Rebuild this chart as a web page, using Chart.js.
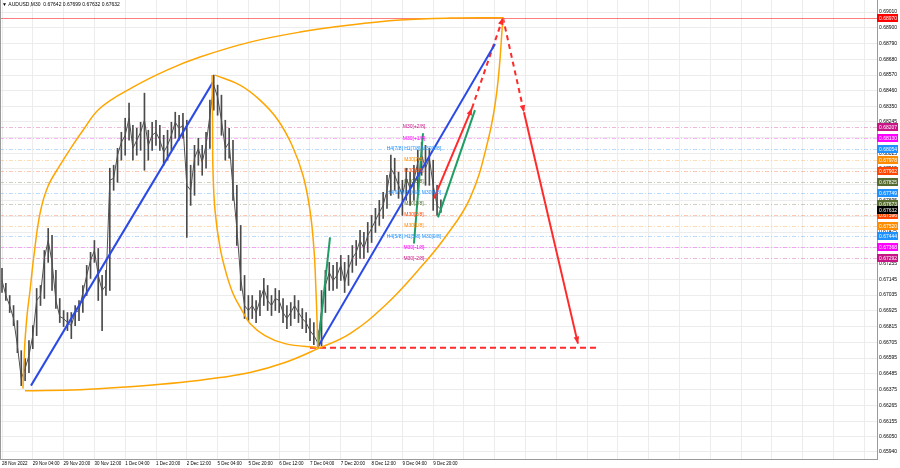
<!DOCTYPE html>
<html><head><meta charset="utf-8">
<script src="https://cdn.jsdelivr.net/npm/chart.js@4.4.1/dist/chart.umd.min.js"></script>
<style>html,body{margin:0;padding:0;background:#fff;}canvas{display:block;}</style>
</head><body>
<canvas id="c" width="900" height="468"></canvas>
<script>
// ---------- data ----------
const titleText = '\u25BC AUDUSD,M30  0.67642 0.67699 0.67632 0.67632';
const timeLabels = ['28 Nov 2022','29 Nov 04:00','29 Nov 20:00','30 Nov 12:00','1 Dec 04:00','1 Dec 20:00','2 Dec 12:00','5 Dec 04:00','5 Dec 20:00','6 Dec 12:00','7 Dec 04:00','7 Dec 20:00','8 Dec 12:00','9 Dec 04:00','9 Dec 20:00'];
const barsPerLabel = 32;   // M30 bars between time labels
const binBars = 4;         // each price sample covers 4 M30 bars
const priceTicks = [0.69010,0.68900,0.68790,0.68680,0.68570,0.68460,0.68350,0.68245,0.68135,0.68025,0.67915,0.67805,0.67695,0.67585,0.67475,0.67365,0.67255,0.67145,0.67035,0.66925,0.66815,0.66705,0.66595,0.66485,0.66375,0.66265,0.66155,0.66050,0.65940];

const closes = [0.67137,0.67032,0.66962,0.66871,0.66682,0.66452,0.66522,0.66613,0.66752,0.66997,
0.67032,0.67291,0.67416,0.67263,0.66997,0.66885,0.66871,0.66843,0.66822,0.66913,
0.66927,0.67053,0.67172,0.67277,0.67346,0.67172,0.67067,0.67102,0.67836,0.67850,
0.68011,0.68101,0.68150,0.68269,0.68059,0.68115,0.68171,0.68255,0.68080,0.68150,
0.68171,0.68115,0.68032,0.68080,0.68150,0.68241,0.68199,0.68220,0.67801,0.67766,
0.67990,0.68059,0.67962,0.68080,0.68290,0.68500,0.68416,0.68255,0.68059,0.68101,
0.67780,0.67500,0.67151,0.66962,0.66927,0.66962,0.66913,0.66997,0.67081,0.66997,
0.66962,0.67011,0.66997,0.66913,0.66871,0.66913,0.66962,0.66913,0.66871,0.66843,
0.66787,0.66752,0.66703,0.66927,0.67102,0.67193,0.67137,0.67172,0.67242,0.67123,
0.67221,0.67291,0.67333,0.67416,0.67360,0.67451,0.67500,0.67556,0.67612,0.67661,
0.67766,0.67920,0.67871,0.67801,0.67731,0.67850,0.67780,0.67836,0.67962,0.68011,
0.67920,0.67990,0.67801,0.67661,0.67632];
const highs = [0.67221,0.67116,0.67032,0.66962,0.66857,0.66647,0.66592,0.66717,0.66822,0.67081,
0.67102,0.67346,0.67500,0.67451,0.67207,0.67011,0.66927,0.66913,0.66913,0.66962,
0.66997,0.67102,0.67242,0.67333,0.67416,0.67360,0.67172,0.67207,0.67920,0.67941,
0.68059,0.68171,0.68269,0.68374,0.68220,0.68199,0.68241,0.68444,0.68185,0.68241,
0.68255,0.68220,0.68150,0.68185,0.68241,0.68311,0.68290,0.68304,0.68255,0.67941,
0.68080,0.68129,0.68080,0.68171,0.68395,0.68570,0.68500,0.68430,0.68255,0.68199,
0.68115,0.67801,0.67521,0.67172,0.67032,0.67032,0.66997,0.67067,0.67151,0.67102,
0.67032,0.67081,0.67067,0.67011,0.66962,0.66983,0.67032,0.66997,0.66941,0.66913,
0.66871,0.66843,0.66787,0.67067,0.67207,0.67263,0.67242,0.67263,0.67312,0.67263,
0.67312,0.67381,0.67416,0.67486,0.67472,0.67542,0.67591,0.67640,0.67696,0.67752,
0.67871,0.68011,0.67990,0.67892,0.67836,0.67920,0.67892,0.67941,0.68045,0.68101,
0.68080,0.68059,0.67976,0.67801,0.67699];
const lows = [0.67053,0.66997,0.66913,0.66822,0.66633,0.66403,0.66438,0.66494,0.66661,0.66752,
0.66962,0.67011,0.67263,0.67067,0.66941,0.66843,0.66815,0.66787,0.66731,0.66822,
0.66857,0.66913,0.67032,0.67151,0.67263,0.66997,0.66787,0.67032,0.67067,0.67766,
0.67822,0.67976,0.68011,0.68115,0.67976,0.68011,0.68045,0.67906,0.67976,0.68045,
0.68080,0.68045,0.67941,0.67976,0.68045,0.68129,0.68115,0.68129,0.67437,0.67661,
0.67731,0.67941,0.67871,0.67920,0.68059,0.68325,0.68290,0.68150,0.67976,0.67990,
0.67696,0.67381,0.67067,0.66871,0.66857,0.66871,0.66843,0.66892,0.66962,0.66927,
0.66892,0.66927,0.66913,0.66843,0.66801,0.66822,0.66871,0.66843,0.66801,0.66773,
0.66717,0.66689,0.66668,0.66682,0.66913,0.67067,0.67067,0.67081,0.67137,0.67053,
0.67102,0.67193,0.67242,0.67291,0.67291,0.67333,0.67402,0.67472,0.67521,0.67570,
0.67640,0.67731,0.67766,0.67710,0.67591,0.67696,0.67661,0.67696,0.67766,0.67871,
0.67801,0.67801,0.67626,0.67591,0.67612];

const mmLevels = [0.68207,0.68130,0.68054,0.67978,0.67902,0.67825,0.67749,0.67673,0.67596,0.67520,0.67444,0.67368,0.67292];
const mmNames = ['M30[+2/8]','M30[+1/8]','H4[7/8] H1[7/8] M30[8/8]','M30[7/8]','M30[6/8]','M30[5/8]','H4[6/8] H1[6/8] M30[4/8]','M30[3/8]','M30[2/8]','M30[1/8]','H4[5/8] H1[5/8] M30[0/8]','M30[-1/8]','M30[-2/8]'];
const mmColors = ['#c71585','#ff00ff','#1e90ff','#ff8c00','#ff4500','#556b2f','#1e90ff','#556b2f','#ff4500','#ff8c00','#1e90ff','#ff00ff','#c71585'];
const resistLevel = 0.68970;
const lastPrice = 0.67632;

// drawn objects, as [bar, price] pairs
const blueLine1 = [[30.1,0.66403],[219.2,0.68521]];
const blueLine2 = [[328.3,0.66675],[512.2,0.68787]];
const arcUpper = [[21.8,0.66382],[22.3,0.66500],[22.9,0.66578],[23.9,0.66717],[26.0,0.66892],[29.1,0.67067],[33.2,0.67312],[39.5,0.67605],[47.8,0.67794],[60.3,0.67941],[72.7,0.68073],[84.2,0.68185],[101.8,0.68339],[136.1,0.68486],[171.4,0.68605],[205.7,0.68696],[257.7,0.68800],[309.6,0.68870],[361.6,0.68919],[413.5,0.68954],[465.5,0.68968],[520.5,0.68970]];
const arcLower = [[23.9,0.66368],[81.0,0.66375],[133.0,0.66396],[184.9,0.66424],[226.5,0.66459],[257.7,0.66494],[294.0,0.66564],[328.3,0.66661],[361.6,0.66766],[397.9,0.66962],[432.2,0.67207],[460.3,0.67437],[486.2,0.67710],[505.0,0.68115],[514.3,0.68465],[520.5,0.68970]];
const ovalLeft = [[218.2,0.68570],[218.7,0.68255],[219.2,0.67906],[221.3,0.67626],[226.5,0.67367],[232.7,0.67193],[240.0,0.67046],[249.4,0.66927],[257.7,0.66836],[273.2,0.66752],[294.0,0.66696],[328.3,0.66668]];
const ovalRight = [[221.3,0.68570],[247.3,0.68500],[268.1,0.68395],[286.8,0.68255],[301.3,0.68080],[312.7,0.67871],[320.0,0.67626],[324.2,0.67346],[326.2,0.67067],[327.3,0.66857],[328.3,0.66668]];
const greenLine1 = [[328.3,0.66668],[340.8,0.67437]];
const greenLine2 = [[428.0,0.67395],[437.4,0.68164]];
const greenLine3 = [[453.0,0.67577],[491.4,0.68325]];
const redSolid1 = [[448.8,0.67710],[488.3,0.68339]];
const redDash1 = [[488.3,0.68339],[520.5,0.68970]];
const redDash2 = [[520.5,0.68970],[542.3,0.68311]];
const redSolid2 = [[542.3,0.68311],[598.4,0.66696]];
const redFloor = [[320.0,0.66668],[619.2,0.66668]];

// ---------- chart ----------
const pts = a => a.map(p => ({x:p[0], y:p[1]}));
const FONT = 'Liberation Sans';
const xMin = -2.08, xMax = 909.1, yMin = 0.65891, yMax = 0.69094;
const gridBars = [];
for (let b = 0; b <= xMax; b += barsPerLabel) gridBars.push(b);

const lineDs = (data, color, width, extra) => Object.assign({
  type:'line', data: pts(data), borderColor: color, borderWidth: width,
  pointRadius:0, fill:false, tension:0, order:1
}, extra || {});

const arrows = [redSolid1, redDash1, redDash2, redSolid2];

const overlay = {
  id:'overlay',
  beforeDatasetsDraw(chart){
    const {ctx, chartArea:a, scales:{y}} = chart;
    ctx.save();
    ctx.lineWidth = 1;
    mmLevels.forEach((v,i)=>{
      const py = Math.round(y.getPixelForValue(v)) + 0.5;
      ctx.globalAlpha = 0.3;
      ctx.strokeStyle = mmColors[i];
      ctx.setLineDash([4,2,1,2]);
      ctx.beginPath(); ctx.moveTo(a.left,py); ctx.lineTo(a.right,py); ctx.stroke();
    });
    ctx.setLineDash([]);
    ctx.globalAlpha = 0.5;
    ctx.strokeStyle = '#ff0000';
    const ry = Math.round(y.getPixelForValue(resistLevel)) + 0.5;
    ctx.beginPath(); ctx.moveTo(a.left,ry); ctx.lineTo(a.right,ry); ctx.stroke();
    ctx.restore();
  },
  afterDatasetsDraw(chart){
    const {ctx, scales:{x,y}} = chart;
    ctx.save();
    ctx.font = '5px "' + FONT + '"';
    ctx.textAlign = 'center'; ctx.textBaseline = 'middle';
    const lx = x.getPixelForValue(428);
    mmLevels.forEach((v,i)=>{
      ctx.fillStyle = mmColors[i];
      ctx.fillText(mmNames[i], lx, y.getPixelForValue(v));
    });
    ctx.fillStyle = '#ff2a2a';
    arrows.forEach(seg=>{
      const x0 = x.getPixelForValue(seg[0][0]), y0 = y.getPixelForValue(seg[0][1]);
      const x1 = x.getPixelForValue(seg[1][0]), y1 = y.getPixelForValue(seg[1][1]);
      const ang = Math.atan2(y1-y0, x1-x0), L = 7, W = 2.8;
      ctx.beginPath();
      ctx.moveTo(x1, y1);
      ctx.lineTo(x1 - L*Math.cos(ang) + W*Math.sin(ang), y1 - L*Math.sin(ang) - W*Math.cos(ang));
      ctx.lineTo(x1 - L*Math.cos(ang) - W*Math.sin(ang), y1 - L*Math.sin(ang) + W*Math.cos(ang));
      ctx.closePath(); ctx.fill();
    });
    ctx.restore();
  },
  afterDraw(chart){
    const {ctx, chartArea:a, scales:{y}} = chart;
    ctx.save();
    const boxes = [[resistLevel,'#ff0000']].concat(mmLevels.map((v,i)=>[v,mmColors[i]])).concat([[lastPrice,'#000000']]);
    ctx.font = '5px "' + FONT + '"';
    ctx.textBaseline = 'middle'; ctx.textAlign = 'left';
    boxes.forEach(([v,c])=>{
      const py = Math.round(y.getPixelForValue(v));
      ctx.fillStyle = c;
      ctx.fillRect(a.right, py-4, 21, 8);
      ctx.fillStyle = '#ffffff';
      ctx.fillText(v.toFixed(5), a.right+2, py+0.5);
    });
    ctx.strokeStyle = '#9a9a9a'; ctx.lineWidth = 1;
    ctx.beginPath(); ctx.moveTo(a.left+0.5, a.top); ctx.lineTo(a.left+0.5, a.bottom); ctx.stroke();
    ctx.fillStyle = '#000';
    ctx.font = '5px "' + FONT + '"';
    ctx.fillText(titleText, 2, 5);
    ctx.restore();
  }
};

const curve = {tension:0.4, cubicInterpolationMode:'default'};

new Chart(document.getElementById('c'), {
  type:'line',
  data:{
    datasets:[
      {type:'bar', data: lows.map((l,i)=>({x:i*binBars, y:[l, highs[i]]})), backgroundColor:'#4a4a4a', barThickness:1, order:3},
      lineDs(closes.map((c,i)=>[i*binBars, c]), '#505050', 1, {order:2}),
      lineDs(arcUpper, '#ffa500', 1.5, curve),
      lineDs(arcLower, '#ffa500', 1.5, curve),
      lineDs(ovalLeft, '#ffa500', 1.5, curve),
      lineDs(ovalRight, '#ffa500', 1.5, curve),
      lineDs(blueLine1, '#2b4ae6', 2),
      lineDs(blueLine2, '#2b4ae6', 2),
      lineDs(greenLine1, '#1e9e64', 2),
      lineDs(greenLine2, '#1e9e64', 2),
      lineDs(greenLine3, '#1e9e64', 2),
      lineDs(redSolid1, '#ff2a2a', 2),
      lineDs(redDash1, '#ff2a2a', 2, {borderDash:[5,4]}),
      lineDs(redDash2, '#ff2a2a', 2, {borderDash:[5,4]}),
      lineDs(redSolid2, '#ff2a2a', 2),
      lineDs(redFloor, '#ff2a2a', 2, {borderDash:[6,4]})
    ]
  },
  options:{
    responsive:false, animation:false, events:[],
    layout:{padding:0, autoPadding:false},
    plugins:{legend:{display:false}, tooltip:{enabled:false}, title:{display:false}},
    scales:{
      x:{
        type:'linear', position:'bottom', min:xMin, max:xMax, offset:false,
        afterBuildTicks: s => { s.ticks = gridBars.map(v=>({value:v})); },
        afterFit: s => { s.height = 9; s.paddingLeft = 0; s.paddingRight = 0; },
        grid:{color:'#ececec', drawTicks:false, offset:false},
        border:{display:true, color:'#9a9a9a'},
        ticks:{align:'start', padding:2, maxRotation:0, autoSkip:false, color:'#000',
               font:{size:4.5, family:FONT},
               callback:(v,i)=> timeLabels[i] || ''}
      },
      y:{
        type:'linear', position:'right', min:yMin, max:yMax,
        afterBuildTicks: s => { s.ticks = priceTicks.map(v=>({value:v})); },
        afterFit: s => { s.width = 23; s.paddingTop = 0; s.paddingBottom = 0; },
        grid:{color:'#ececec', drawTicks:false},
        border:{display:true, color:'#9a9a9a'},
        ticks:{padding:2, autoSkip:false, color:'#000', font:{size:5, family:FONT},
               callback:v=> Number(v).toFixed(5)}
      }
    }
  },
  plugins:[overlay]
});
</script>
</body></html>
